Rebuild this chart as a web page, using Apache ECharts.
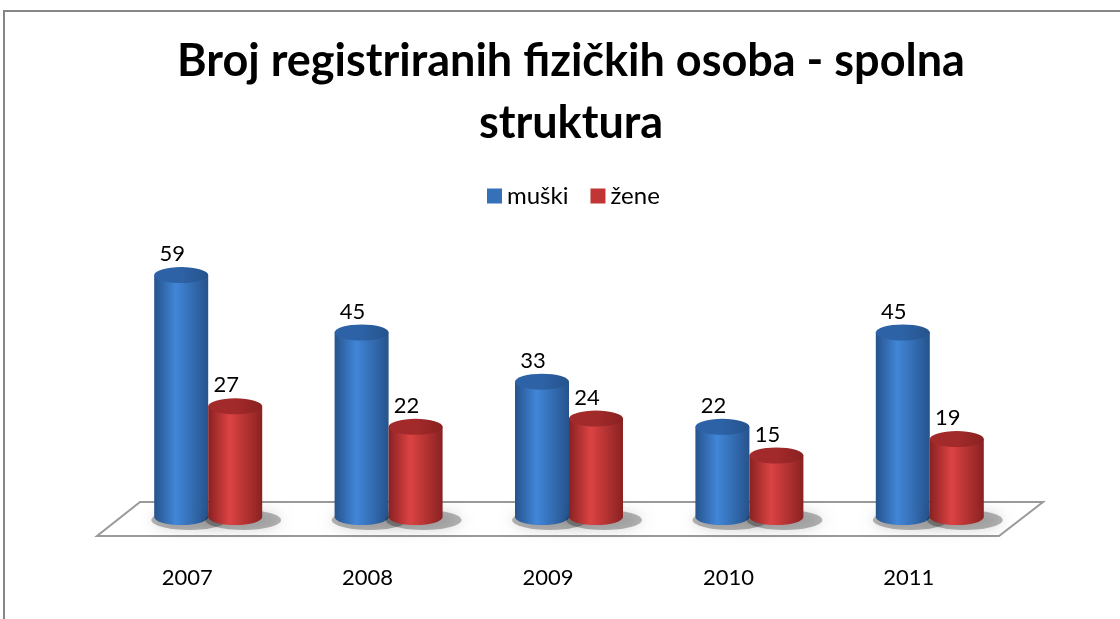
<!DOCTYPE html>
<html>
<head>
<meta charset="utf-8">
<script src="https://cdn.jsdelivr.net/npm/echarts@6/dist/echarts.min.js"></script>
<style>
  html, body { margin: 0; padding: 0; background: #fff; }
  #chart { width: 1120px; height: 619px; }
</style>
</head>
<body>
<div id="chart"></div>
<script>
// podaci
const godine = ['2007', '2008', '2009', '2010', '2011'];
const muski = [59, 45, 33, 22, 45];
const zene = [27, 22, 24, 15, 19];

const chart = echarts.init(document.getElementById('chart'));

// boje cilindra: rub, sredina, vrh
const boje = [
    { edge: '#26538c', mid: '#4186d8', top: '#2d62a6', legend: '#3670b8' },
    { edge: '#8a2121', mid: '#dc4343', top: '#a32a2a', legend: '#c23535' }
];

function ellipsePath(cx, cy, rx, ry) {
    return 'M' + (cx - rx) + ' ' + cy +
        ' A' + rx + ' ' + ry + ' 0 1 0 ' + (cx + rx) + ' ' + cy +
        ' A' + rx + ' ' + ry + ' 0 1 0 ' + (cx - rx) + ' ' + cy + ' Z';
}

function cylinder(params, api) {
    const idx = params.seriesIndex;
    const val = api.value(1);
    const top = api.coord([api.value(0), val]);
    const base = api.coord([api.value(0), 0]);
    const rx = 27, ry = 8;
    const cx = top[0] + (idx === 0 ? -27 : 27);
    const c = boje[idx];
    const body = 'M' + (cx - rx) + ' ' + top[1] +
        ' L' + (cx - rx) + ' ' + base[1] +
        ' A' + rx + ' ' + ry + ' 0 0 0 ' + (cx + rx) + ' ' + base[1] +
        ' L' + (cx + rx) + ' ' + top[1] + ' Z';
    const bodyFill = new echarts.graphic.LinearGradient(0, 0, 1, 0, [
        { offset: 0, color: c.edge },
        { offset: 0.4, color: c.mid },
        { offset: 1, color: c.edge }
    ]);
    const topFill = new echarts.graphic.LinearGradient(0, 0, 1, 0, [
        { offset: 0, color: c.top },
        { offset: 0.5, color: c.top },
        { offset: 1, color: c.edge }
    ]);
    return {
        type: 'group',
        children: [
            {
                type: 'path',
                shape: { pathData: ellipsePath(cx + 8, base[1] + 3, 38, 10) },
                style: { fill: 'rgba(0,0,0,0.28)', shadowBlur: 14, shadowColor: 'rgba(0,0,0,0.55)' }
            },
            {
                type: 'path',
                shape: { pathData: body },
                style: { fill: bodyFill }
            },
            {
                type: 'path',
                shape: { pathData: ellipsePath(cx, top[1], rx, ry) },
                style: { fill: topFill }
            },
            {
                type: 'text',
                style: {
                    text: String(val),
                    x: cx - 9,
                    y: top[1] - 21,
                    align: 'center',
                    verticalAlign: 'middle',
                    font: '22px Lato',
                    fill: '#000'
                }
            }
        ]
    };
}

const option = {
    backgroundColor: '#fff',
    animation: false,
    title: {
        text: 'Broj registriranih fizičkih osoba - spolna\nstruktura',
        left: 571,
        textAlign: 'center',
        top: 30,
        padding: 0,
        textStyle: {
            fontFamily: 'Lato',
            fontWeight: 'bold',
            fontSize: 45,
            lineHeight: 62,
            color: '#000'
        }
    },
    legend: {
        data: ['muški', 'žene'],
        top: 184,
        left: 487,
        padding: 0,
        icon: 'rect',
        itemWidth: 15,
        itemHeight: 15,
        itemGap: 22,
        textStyle: { fontFamily: 'Lato', fontSize: 24, color: '#000' }
    },
    grid: { left: 118, right: 100, top: 230, bottom: 102 },
    xAxis: {
        type: 'category',
        data: godine,
        axisLine: { show: false },
        axisTick: { show: false },
        axisLabel: {
            margin: 50,
            padding: [0, 42, 0, 0],
            fontFamily: 'Lato',
            fontSize: 22,
            color: '#000'
        }
    },
    yAxis: {
        type: 'value',
        min: 0,
        max: 70,
        show: false,
        splitLine: { show: false }
    },
    graphic: [
        {
            type: 'polyline',
            z: -10,
            shape: { points: [[4, 619], [4, 11], [1120, 11]] },
            style: { stroke: '#868686', lineWidth: 2, fill: null }
        },
        {
            type: 'polygon',
            z: -10,
            shape: { points: [[140, 502], [1043, 502], [999, 536], [97, 536]] },
            style: { fill: '#fff', stroke: '#9a9a9a', lineWidth: 2 }
        }
    ],
    series: [
        {
            name: 'muški',
            type: 'custom',
            renderItem: cylinder,
            itemStyle: { color: boje[0].legend },
            data: godine.map((g, i) => [i, muski[i]]),
            z: 2
        },
        {
            name: 'žene',
            type: 'custom',
            renderItem: cylinder,
            itemStyle: { color: boje[1].legend },
            data: godine.map((g, i) => [i, zene[i]]),
            z: 3
        }
    ]
};

chart.setOption(option);
</script>
</body>
</html>
